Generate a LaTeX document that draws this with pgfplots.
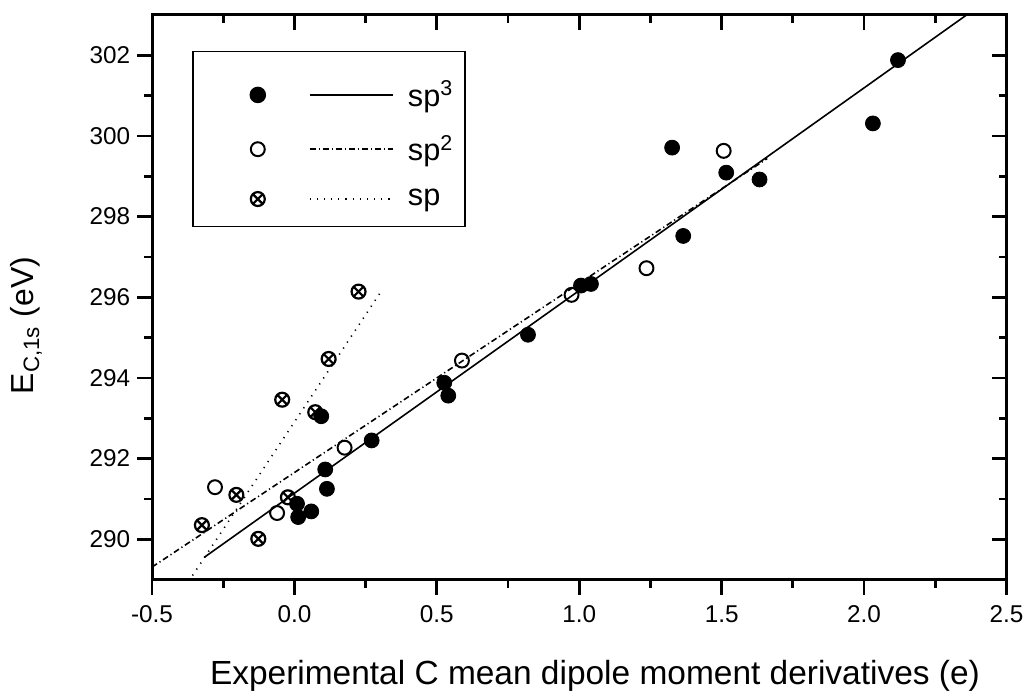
\documentclass[border=0pt]{standalone}
\usepackage{fontspec}
\setmainfont{Liberation Sans}
\usepackage{pgfplots}
\pgfplotsset{compat=1.18}

\pgfplotsset{
  frame/.style={
    scale only axis, width=429pt, height=283.5pt,
    xmin=-0.5, xmax=2.5, ymin=289, ymax=303,
    xtick={-0.5,0,...,2.5}, minor x tick num=1,
    ytick={290,292,...,302}, minor y tick num=1,
    major tick length=7.5pt, minor tick length=4pt,
    axis line style={line width=1.5pt},
    every tick/.style={line width=1.4pt, black},
  },
}

\begin{document}
\begin{tikzpicture}
% mirrored ticks on top and right point inward
\begin{axis}[frame, tick pos=right, tick align=inside,
  xticklabels={}, yticklabels={}]
\end{axis}

\begin{axis}[frame, name=main,
  tick pos=left, tick align=outside,
  /pgf/number format/assume math mode=true,
  tick label style={font=\fontsize{12.2}{14}\selectfont},
  xticklabel style={yshift=-2pt, /pgf/number format/.cd, fixed, fixed zerofill, precision=1},
  yticklabel style={/pgf/number format/.cd, fixed, precision=0, 1000 sep={}},
  xlabel={Experimental C mean dipole moment derivatives (e)},
  xlabel style={font=\fontsize{16.8}{20}\selectfont, at={(axis description cs:0.5184,-0.185)}, anchor=base},
  ylabel={E\textsubscript{C,1s} (eV)},
  ylabel style={font=\fontsize{16}{19}\selectfont, at={(axis description cs:-0.1383,0.45)}, anchor=base, rotate=0},
  legend style={at={(axis description cs:0.0473,0.937)}, anchor=north west,
    font=\fontsize{15.4}{18}\selectfont, draw=black, line width=0.8pt,
    inner xsep=4pt, inner ysep=7pt, row sep=9pt,
    /tikz/every even column/.append style={column sep=0pt}},
  legend cell align=left,
]
% sp3 carbons
\addplot[only marks, mark=*, mark size=3.75pt, black, forget plot] coordinates {
  (0.820,295.07) (0.526,293.88) (0.540,293.56) (0.271,292.45)
  (0.108,291.73) (0.114,291.25) (0.094,293.05) (0.009,290.88)
  (0.013,290.55) (0.059,290.69) (2.119,301.88) (2.031,300.31)
  (1.326,299.71) (1.516,299.09) (1.633,298.92) (1.365,297.52)
  (1.041,296.33) (1.006,296.29)};
% sp2 carbons
\addplot[only marks, mark=o, mark size=3.5pt, black, line width=1pt, fill=white, forget plot] coordinates {
  (1.507,299.63) (1.236,296.72) (0.973,296.06) (0.588,294.43)
  (0.176,292.27) (-0.279,291.29) (-0.061,290.65)};
% sp carbons
\addplot[only marks, mark=otimes, mark size=3.5pt, black, line width=1.1pt, forget plot] coordinates {
  (0.225,296.14) (0.120,294.47) (-0.043,293.46) (0.073,293.15)
  (-0.204,291.10) (-0.023,291.04) (-0.325,290.35) (-0.127,290.01)};
% fits
\addplot[black, line width=0.8pt, forget plot] coordinates {(-0.317,289.55) (2.36,303.0)};
\addplot[black, line width=0.8pt, dash pattern=on 3pt off 1.5pt on 0.6pt off 1.5pt, forget plot]
  coordinates {(-0.5,289.31) (1.66,299.44)};
\addplot[black, line width=0.8pt, dash pattern=on 0.6pt off 3pt, forget plot]
  coordinates {(-0.358,289.1) (0.30,296.1)};

\addlegendimage{legend image code/.code={
  \path (-28pt,0pt) (73pt,0pt) (0pt,14.5pt);
  \draw[black, mark=*, mark size=3.75pt] plot coordinates {(0pt,0pt)};
  \draw[black, line width=0.8pt] (26pt,0pt) -- (68pt,0pt);}}
\addlegendentry{sp\textsuperscript{3}}
\addlegendimage{legend image code/.code={
  \path (-28pt,0pt) (73pt,0pt);
  \draw[black, line width=1pt, mark=o, mark size=3.5pt] plot coordinates {(0pt,0pt)};
  \draw[black, line width=0.8pt, dash pattern=on 3pt off 1.5pt on 0.6pt off 1.5pt] (26pt,0pt) -- (68pt,0pt);}}
\addlegendentry{sp\textsuperscript{2}}
\addlegendimage{legend image code/.code={
  \path (-28pt,0pt) (73pt,0pt);
  \draw[black, line width=1.1pt, mark=otimes, mark size=3.5pt] plot coordinates {(0pt,0pt)};
  \draw[black, line width=0.8pt, dash pattern=on 0.6pt off 3pt] (26pt,0pt) -- (68pt,0pt);}}
\addlegendentry{sp}
\end{axis}
\path (main.south west) ++(-76.35pt,-56pt) rectangle ++(515pt,347pt);
\end{tikzpicture}
\end{document}
